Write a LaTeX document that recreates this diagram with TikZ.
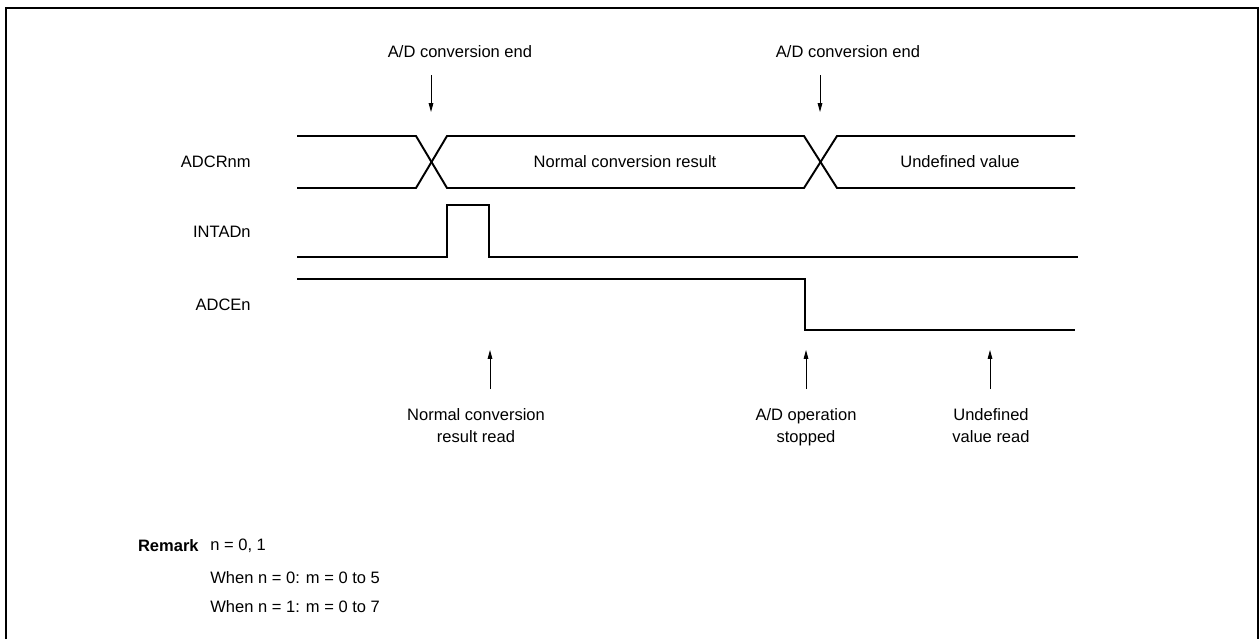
\documentclass[tikz,border=0pt]{standalone}
\usepackage{fontspec}
\setmainfont{Liberation Sans}
\usetikzlibrary{arrows.meta}

\begin{document}
\begin{tikzpicture}[x=0.02cm,y=-0.02cm,
      wave/.style={line width=1.1pt,line join=miter},
      evt/.style={line width=0.5pt,-{Triangle[length=5pt,width=2.6pt]}},
      lbl/.style={font=\fontsize{9.4}{12.5}\selectfont,inner sep=0pt,align=center},
      sig/.style={lbl,anchor=west},
      signame/.style={lbl,anchor=east}
]
\useasboundingbox (0,0) rectangle (1260,639);
\draw[line width=1.1pt] (6,639) -- (6,8) -- (1258,8) -- (1258,639);

% signal names
\node[signame] (adcr) at (251,162) {ADCRnm};
\node[signame] (intad) at (251,232) {INTADn};
\node[signame] (adce) at (251,305) {ADCEn};

% ADCRnm bus
\draw[wave] (297,136) -- (416,136) -- (447,188) -- (804,188) -- (837,136) -- (1075,136);
\draw[wave] (297,188) -- (416,188) -- (447,136) -- (804,136) -- (837,188) -- (1075,188);
\node[lbl] (normres) at (625,162) {Normal conversion result};
\node[lbl] (undef) at (960,162) {Undefined value};

% INTADn
\draw[wave] (297,257) -- (447,257) -- (447,205) -- (489,205) -- (489,257) -- (1078,257);

% ADCEn
\draw[wave] (297,279) -- (805,279) -- (805,330) -- (1075,330);

% conversion end events
\node[lbl] (end1) at (460,52) {A/D conversion end};
\node[lbl] (end2) at (848,52) {A/D conversion end};
\coordinate (end1a) at (431,75);
\coordinate (end1b) at (431,112);
\coordinate (end2a) at (820,75);
\coordinate (end2b) at (820,112);
\draw[evt] (end1a) -- (end1b);
\draw[evt] (end2a) -- (end2b);

% read / stop events
\node[lbl,anchor=north] (rd1) at (476,408) {Normal conversion\\result read};
\node[lbl,anchor=north] (stop) at (806,408) {A/D operation\\stopped};
\node[lbl,anchor=north] (rd2) at (991,408) {Undefined\\value read};
\foreach \ev/\x in {rda/490,stopa/806,rdb/990} {
      \coordinate (\ev lo) at (\x,389);
      \coordinate (\ev hi) at (\x,350);
      \draw[evt] (\ev lo) -- (\ev hi);
}

% remark
\node[lbl,anchor=east,font=\fontsize{9.4}{12.5}\selectfont\bfseries] (remark) at (199,546) {Remark};
\node[sig] (rem1) at (210,546) {n = 0, 1};
\node[sig] (rem2) at (210,578) {When n = 0: m = 0 to 5};
\node[sig] (rem3) at (210,607) {When n = 1: m = 0 to 7};
\end{tikzpicture}
\end{document}
